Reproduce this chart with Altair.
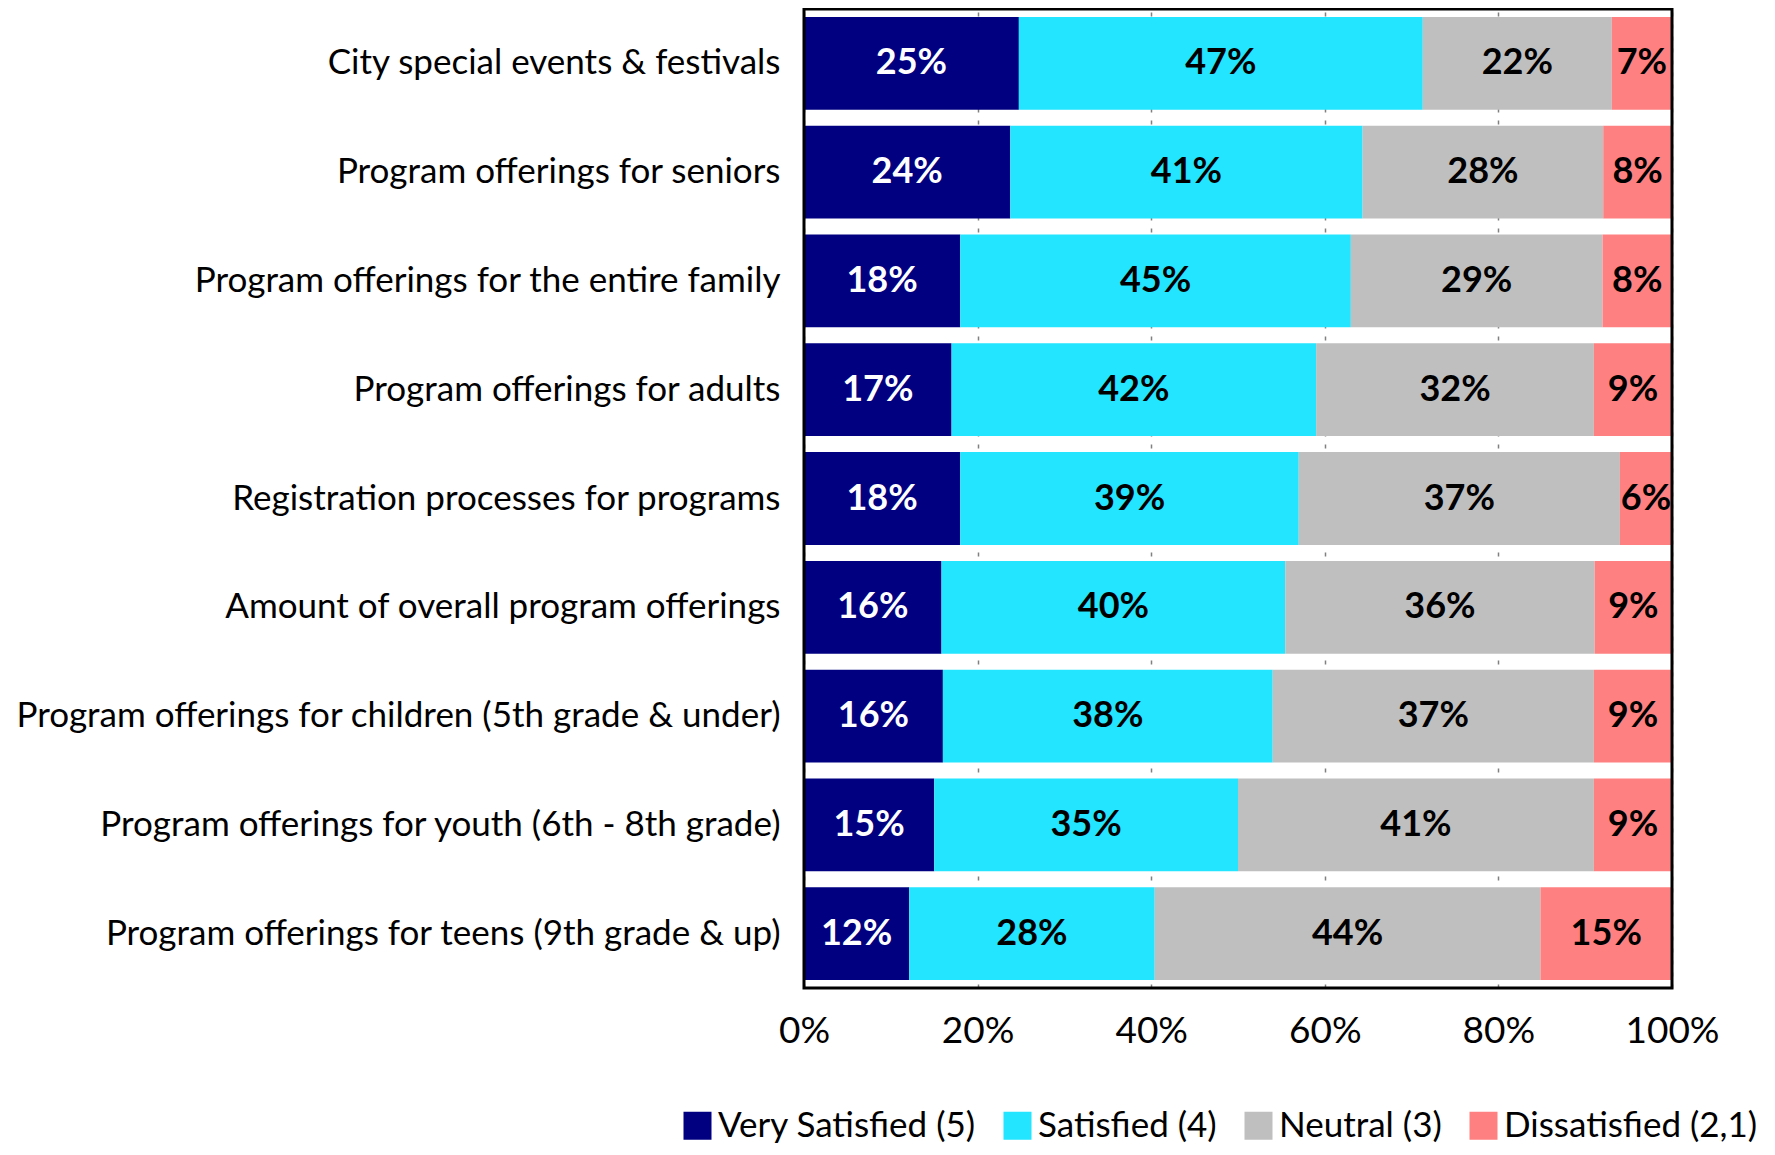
import altair as alt
import pandas as pd

categories = [
    "City special events & festivals",
    "Program offerings for seniors",
    "Program offerings for the entire family",
    "Program offerings for adults",
    "Registration processes for programs",
    "Amount of overall program offerings",
    "Program offerings for children (5th grade & under)",
    "Program offerings for youth (6th - 8th grade)",
    "Program offerings for teens (9th grade & up)",
]
series = ["Very Satisfied (5)", "Satisfied (4)", "Neutral (3)", "Dissatisfied (2,1)"]
very_satisfied = [25, 24, 18, 17, 18, 16, 16, 15, 12]
satisfied = [47, 41, 45, 42, 39, 40, 38, 35, 28]
neutral = [22, 28, 29, 32, 37, 36, 37, 41, 44]
dissatisfied = [7, 8, 8, 9, 6, 9, 9, 9, 15]
colors = ["#000080", "#23E5FF", "#BFBFBF", "#FF8080"]
x_ticks = [0, 0.2, 0.4, 0.6, 0.8, 1.0]

rows = []
for s_i, (name, vals) in enumerate(zip(series, [very_satisfied, satisfied, neutral, dissatisfied])):
    for c, v in zip(categories, vals):
        rows.append({"cat": c, "series": name, "order": s_i, "value": v})
df = pd.DataFrame(rows)

FONT = "Lato"
W, H = 868, 979

base = alt.Chart(df).transform_joinaggregate(
    total="sum(value)", groupby=["cat"]
).transform_calculate(
    pct="datum.value / datum.total", label="datum.value + '%'"
).transform_stack(
    stack="pct", as_=["x0", "x1"], groupby=["cat"], sort=[alt.SortField("order", "ascending")]
).transform_calculate(
    mid="(datum.x0 + datum.x1) / 2"
)

yenc = alt.Y(
    "cat:N",
    sort=categories,
    title=None,
    scale=alt.Scale(paddingInner=0.147, paddingOuter=0.074),
    axis=alt.Axis(
        labelFont=FONT, labelFontSize=35, labelColor="black", labelPadding=24,
        ticks=False, domain=False, labelLimit=0,
    ),
)

bars = base.mark_bar().encode(
    x=alt.X(
        "x0:Q",
        scale=alt.Scale(domain=[0, 1], nice=False, zero=True),
        title=None,
        axis=alt.Axis(
            values=x_ticks, format=".0%", labelFont=FONT, labelFontSize=37,
            labelColor="black", labelPadding=25, ticks=False, domain=False,
            labelFlush=False, labelOverlap=False,
            grid=True, gridColor="#808080", gridDash=[4, 8], gridWidth=1.5,
        ),
    ),
    x2="x1:Q",
    y=yenc,
    color=alt.Color(
        "series:N",
        scale=alt.Scale(domain=series, range=colors),
        legend=alt.Legend(
            title=None, orient="none", direction="horizontal",
            legendX=-124, legendY=1099,
            symbolType="square", symbolSize=784, symbolStrokeWidth=0,
            labelFont=FONT, labelFontSize=35, labelColor="black",
            labelOffset=3, columnPadding=24, labelLimit=0,
        ),
    ),
)

text = base.mark_text(font=FONT, fontSize=36, fontWeight="bold").encode(
    x=alt.X("mid:Q"),
    y=alt.Y("cat:N", sort=categories),
    text="label:N",
    color=alt.condition(
        alt.datum.series == "Very Satisfied (5)", alt.value("white"), alt.value("black")
    ),
)

frame = alt.Chart(alt.Data(values=[{}])).mark_rect(
    filled=False, stroke="black", strokeWidth=3
).encode(
    x=alt.value(0), x2=alt.value(W), y=alt.value(0), y2=alt.value(H)
)

chart = alt.layer(bars, text, frame).properties(
    width=W, height=H,
    autosize=alt.AutoSizeParams(type="none"),
    padding={"left": 796, "top": 1, "right": 95, "bottom": 159},
).configure_view(stroke=None)

chart.save("out.html", embed_options={"renderer": "svg", "actions": False})
